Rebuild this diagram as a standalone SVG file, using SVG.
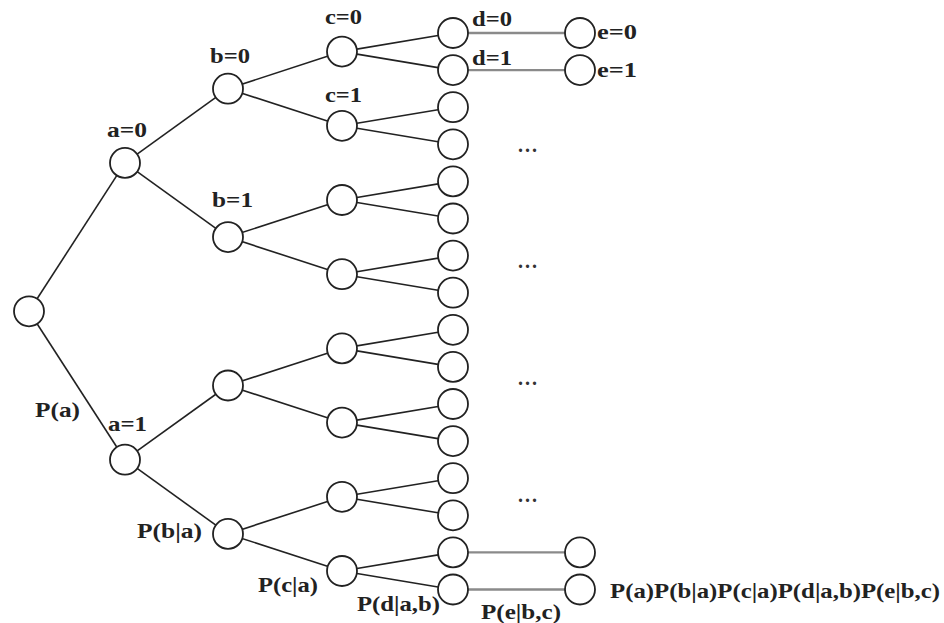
<svg xmlns="http://www.w3.org/2000/svg" width="944" height="623" viewBox="0 0 944 623">
  <style>
    .edge { stroke: #222; stroke-width: 1.6; fill: none; }
    .leaf { stroke: #8a8a8a; stroke-width: 2.4; fill: none; }
    .node circle { fill: #fff; stroke: #222; stroke-width: 1.8; }
    .lbl { font-family: "Liberation Serif", "Times New Roman", serif; font-weight: bold; font-size: 21px; fill: #222; }
    .dots { font-family: "Liberation Serif", serif; font-weight: bold; font-size: 20px; fill: #333; }
  </style>
  <rect width="944" height="623" fill="#fff"/>

  <!-- connectors -->
  <g id="connectors">
    <!-- root to a -->
    <line class="edge" x1="29" y1="311.3" x2="125" y2="162.9"/>
    <line class="edge" x1="29" y1="311.3" x2="125" y2="459.7"/>
    <!-- a to b -->
    <line class="edge" x1="125" y1="162.9" x2="228" y2="88.7"/>
    <line class="edge" x1="125" y1="162.9" x2="228" y2="237.1"/>
    <line class="edge" x1="125" y1="459.7" x2="228" y2="385.5"/>
    <line class="edge" x1="125" y1="459.7" x2="228" y2="533.9"/>
    <!-- b to c -->
    <line class="edge" x1="228" y1="88.7" x2="342" y2="51.6"/>
    <line class="edge" x1="228" y1="88.7" x2="342" y2="125.8"/>
    <line class="edge" x1="228" y1="237.1" x2="342" y2="200"/>
    <line class="edge" x1="228" y1="237.1" x2="342" y2="274.2"/>
    <line class="edge" x1="228" y1="385.5" x2="342" y2="348.4"/>
    <line class="edge" x1="228" y1="385.5" x2="342" y2="422.6"/>
    <line class="edge" x1="228" y1="533.9" x2="342" y2="496.8"/>
    <line class="edge" x1="228" y1="533.9" x2="342" y2="571"/>
    <!-- c to d -->
    <line class="edge" x1="342" y1="51.6" x2="453" y2="33"/>
    <line class="edge" x1="342" y1="51.6" x2="453" y2="70.1"/>
    <line class="edge" x1="342" y1="125.8" x2="453" y2="107.2"/>
    <line class="edge" x1="342" y1="125.8" x2="453" y2="144.3"/>
    <line class="edge" x1="342" y1="200" x2="453" y2="181.4"/>
    <line class="edge" x1="342" y1="200" x2="453" y2="218.5"/>
    <line class="edge" x1="342" y1="274.2" x2="453" y2="255.6"/>
    <line class="edge" x1="342" y1="274.2" x2="453" y2="292.7"/>
    <line class="edge" x1="342" y1="348.4" x2="453" y2="329.8"/>
    <line class="edge" x1="342" y1="348.4" x2="453" y2="366.9"/>
    <line class="edge" x1="342" y1="422.6" x2="453" y2="404"/>
    <line class="edge" x1="342" y1="422.6" x2="453" y2="441.1"/>
    <line class="edge" x1="342" y1="496.8" x2="453" y2="478.2"/>
    <line class="edge" x1="342" y1="496.8" x2="453" y2="515.3"/>
    <line class="edge" x1="342" y1="571" x2="453" y2="552.4"/>
    <line class="edge" x1="342" y1="571" x2="453" y2="589.5"/>
    <!-- d to e -->
    <line class="leaf" x1="453" y1="33" x2="580" y2="33"/>
    <line class="leaf" x1="453" y1="70.1" x2="580" y2="70.1"/>
    <line class="leaf" x1="453" y1="552.4" x2="580" y2="552.4"/>
    <line class="leaf" x1="453" y1="589.5" x2="580" y2="589.5"/>
  </g>

  <!-- nodes -->
  <g id="root" class="node"><circle cx="29" cy="311.3" r="15"/></g>
  <g id="a0" class="node"><circle cx="125" cy="162.9" r="15"/></g>
  <g id="a1" class="node"><circle cx="125" cy="459.7" r="15"/></g>
  <g id="b0" class="node"><circle cx="228" cy="88.7" r="15"/></g>
  <g id="b1" class="node"><circle cx="228" cy="237.1" r="15"/></g>
  <g id="b2" class="node"><circle cx="228" cy="385.5" r="15"/></g>
  <g id="b3" class="node"><circle cx="228" cy="533.9" r="15"/></g>
  <g id="c0" class="node"><circle cx="342" cy="51.6" r="15"/></g>
  <g id="c1" class="node"><circle cx="342" cy="125.8" r="15"/></g>
  <g id="c2" class="node"><circle cx="342" cy="200" r="15"/></g>
  <g id="c3" class="node"><circle cx="342" cy="274.2" r="15"/></g>
  <g id="c4" class="node"><circle cx="342" cy="348.4" r="15"/></g>
  <g id="c5" class="node"><circle cx="342" cy="422.6" r="15"/></g>
  <g id="c6" class="node"><circle cx="342" cy="496.8" r="15"/></g>
  <g id="c7" class="node"><circle cx="342" cy="571" r="15"/></g>
  <g id="d0" class="node"><circle cx="453" cy="33" r="15"/></g>
  <g id="d1" class="node"><circle cx="453" cy="70.1" r="15"/></g>
  <g id="d2" class="node"><circle cx="453" cy="107.2" r="15"/></g>
  <g id="d3" class="node"><circle cx="453" cy="144.3" r="15"/></g>
  <g id="d4" class="node"><circle cx="453" cy="181.4" r="15"/></g>
  <g id="d5" class="node"><circle cx="453" cy="218.5" r="15"/></g>
  <g id="d6" class="node"><circle cx="453" cy="255.6" r="15"/></g>
  <g id="d7" class="node"><circle cx="453" cy="292.7" r="15"/></g>
  <g id="d8" class="node"><circle cx="453" cy="329.8" r="15"/></g>
  <g id="d9" class="node"><circle cx="453" cy="366.9" r="15"/></g>
  <g id="d10" class="node"><circle cx="453" cy="404" r="15"/></g>
  <g id="d11" class="node"><circle cx="453" cy="441.1" r="15"/></g>
  <g id="d12" class="node"><circle cx="453" cy="478.2" r="15"/></g>
  <g id="d13" class="node"><circle cx="453" cy="515.3" r="15"/></g>
  <g id="d14" class="node"><circle cx="453" cy="552.4" r="15"/></g>
  <g id="d15" class="node"><circle cx="453" cy="589.5" r="15"/></g>
  <g id="e0" class="node"><circle cx="580" cy="33" r="15"/></g>
  <g id="e1" class="node"><circle cx="580" cy="70.1" r="15"/></g>
  <g id="e2" class="node"><circle cx="580" cy="552.4" r="15"/></g>
  <g id="e3" class="node"><circle cx="580" cy="589.5" r="15"/></g>

  <!-- value labels -->
  <g id="labels">
    <text class="lbl" x="107" y="137" textLength="40" lengthAdjust="spacingAndGlyphs">a=0</text>
    <text class="lbl" x="108" y="431" textLength="39" lengthAdjust="spacingAndGlyphs">a=1</text>
    <text class="lbl" x="210" y="63" textLength="40" lengthAdjust="spacingAndGlyphs">b=0</text>
    <text class="lbl" x="212" y="207" textLength="41" lengthAdjust="spacingAndGlyphs">b=1</text>
    <text class="lbl" x="325" y="24" textLength="37" lengthAdjust="spacingAndGlyphs">c=0</text>
    <text class="lbl" x="325" y="102" textLength="37" lengthAdjust="spacingAndGlyphs">c=1</text>
    <text class="lbl" x="472" y="26" textLength="40" lengthAdjust="spacingAndGlyphs">d=0</text>
    <text class="lbl" x="472" y="65" textLength="40" lengthAdjust="spacingAndGlyphs">d=1</text>
    <text class="lbl" x="597" y="39" textLength="40" lengthAdjust="spacingAndGlyphs">e=0</text>
    <text class="lbl" x="597" y="77" textLength="40" lengthAdjust="spacingAndGlyphs">e=1</text>
  </g>

  <!-- probability labels -->
  <g id="probabilities">
    <text class="lbl" x="35" y="417" textLength="45" lengthAdjust="spacingAndGlyphs">P(a)</text>
    <text class="lbl" x="137" y="538" textLength="65" lengthAdjust="spacingAndGlyphs">P(b|a)</text>
    <text class="lbl" x="258" y="592" textLength="60" lengthAdjust="spacingAndGlyphs">P(c|a)</text>
    <text class="lbl" x="357" y="611" textLength="83" lengthAdjust="spacingAndGlyphs">P(d|a,b)</text>
    <text class="lbl" x="481" y="619" textLength="80" lengthAdjust="spacingAndGlyphs">P(e|b,c)</text>
    <text class="lbl" x="610" y="598" textLength="330" lengthAdjust="spacingAndGlyphs">P(a)P(b|a)P(c|a)P(d|a,b)P(e|b,c)</text>
  </g>

  <!-- ellipses for omitted leaves -->
  <g id="ellipses">
    <text class="dots" x="518" y="152" textLength="19" lengthAdjust="spacing">...</text>
    <text class="dots" x="518" y="268" textLength="19" lengthAdjust="spacing">...</text>
    <text class="dots" x="518" y="385" textLength="19" lengthAdjust="spacing">...</text>
    <text class="dots" x="518" y="502" textLength="19" lengthAdjust="spacing">...</text>
  </g>
</svg>
